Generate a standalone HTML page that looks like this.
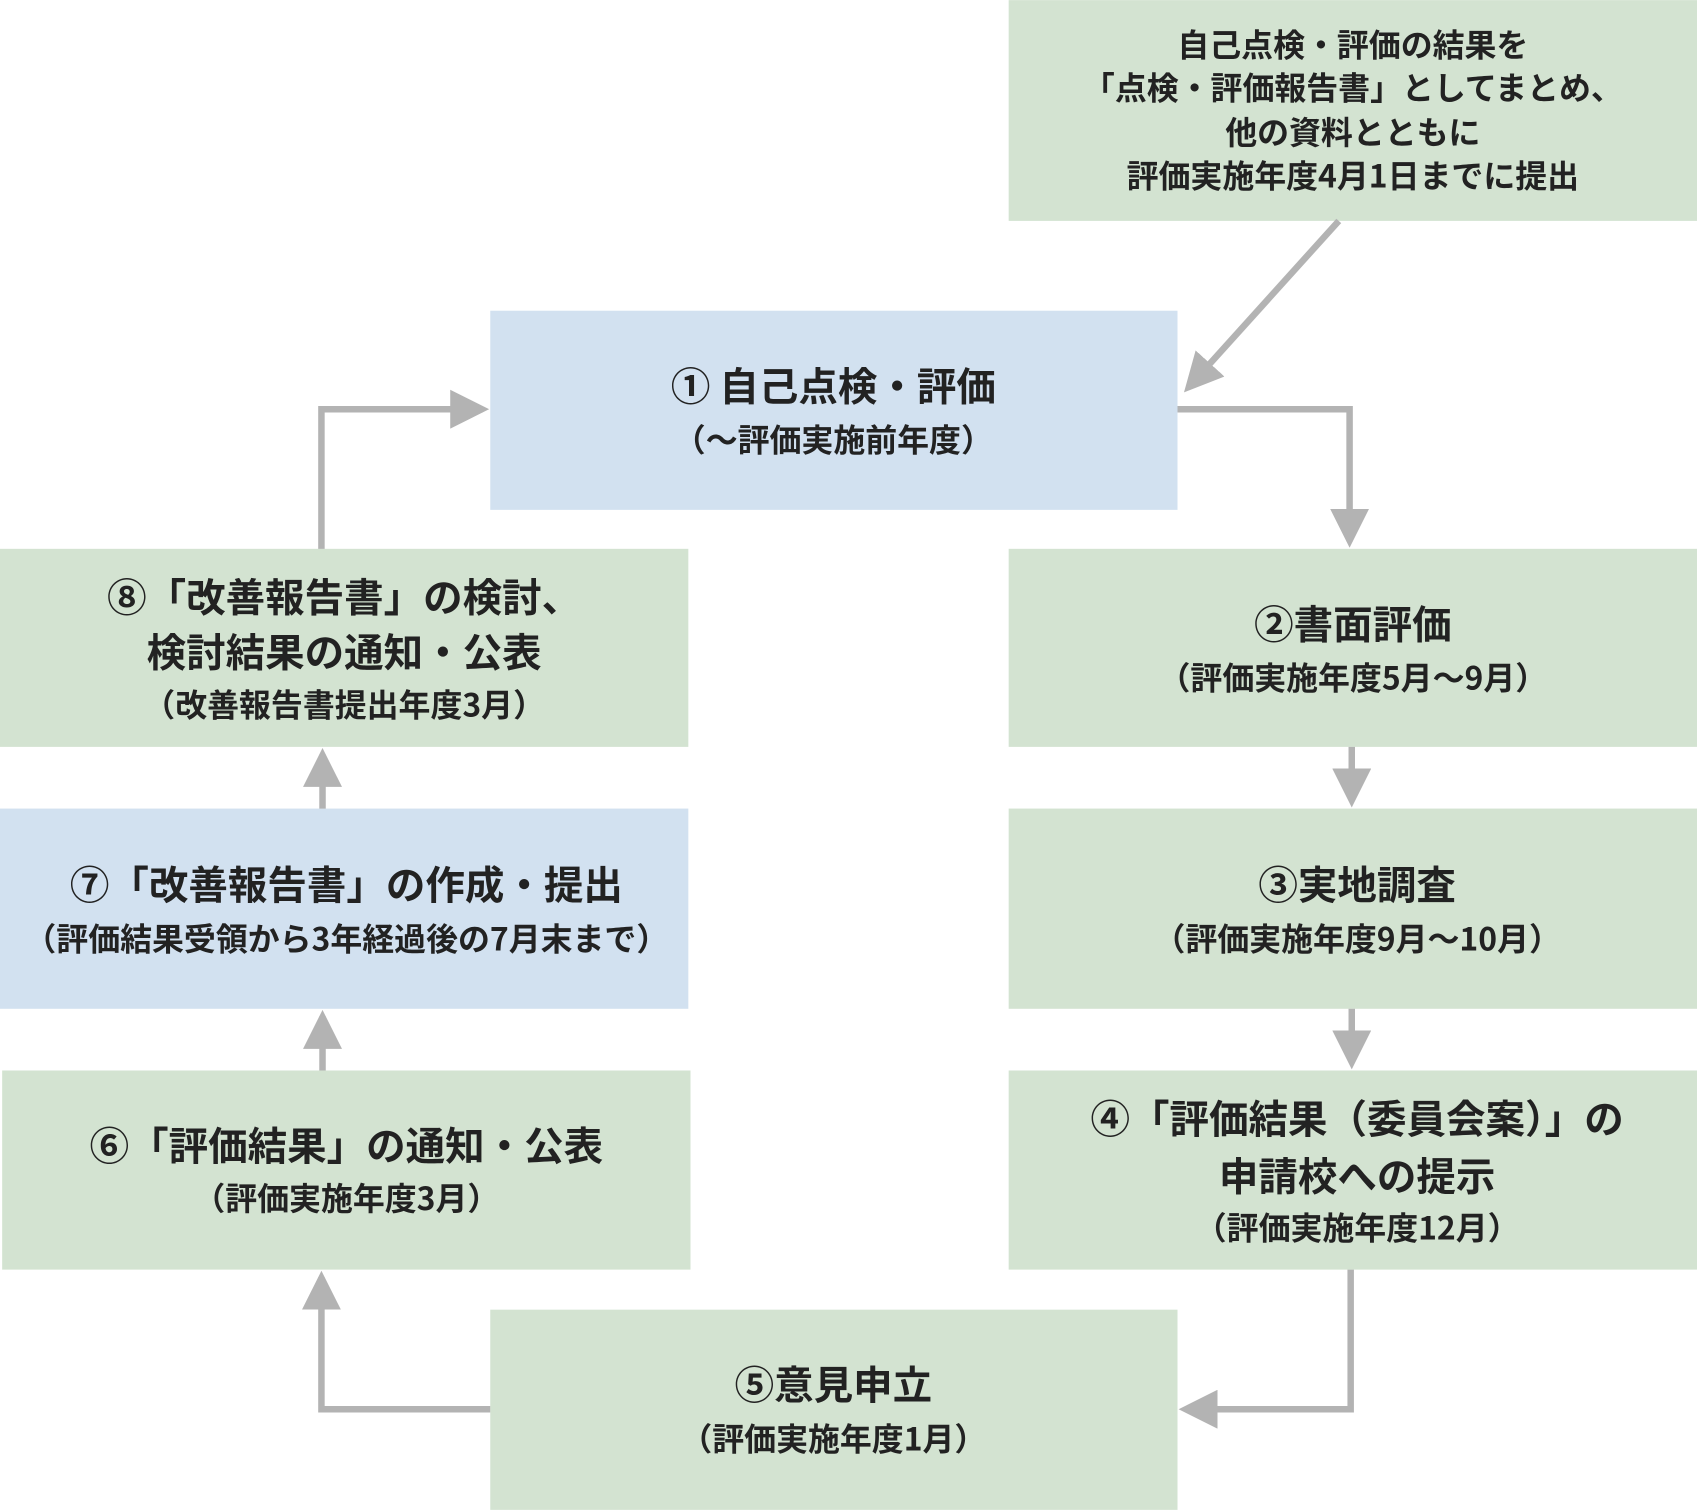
<!DOCTYPE html>
<html><head><meta charset="utf-8"><style>
html,body{margin:0;padding:0;background:#fff;}
svg{display:block;}
text{font-family:"Noto Sans CJK JP","Liberation Sans",sans-serif;font-weight:bold;fill:#222;text-anchor:middle;dominant-baseline:central;}
.t{font-size:36.5px;}
.s{font-size:29.5px;}
</style></head><body>
<svg width="1697" height="1510" viewBox="0 0 1568 1395" xmlns="http://www.w3.org/2000/svg">
<defs>
<marker id="a" markerWidth="6" markerHeight="6" refX="5" refY="3" orient="auto" markerUnits="strokeWidth">
<path d="M0,0 L6,3 L0,6 z" fill="#b3b3b3"/>
</marker>
</defs>
<g fill="#d3e3d1">
<rect x="932" y="0" width="636" height="204"/>
<rect x="0" y="507" width="636" height="183"/>
<rect x="932" y="507" width="636" height="183"/>
<rect x="932" y="747" width="636" height="185"/>
<rect x="2" y="989" width="636" height="184"/>
<rect x="932" y="989" width="636" height="184"/>
<rect x="453" y="1210" width="635" height="185"/>
</g>
<g fill="#d2e1f0">
<rect x="453" y="287" width="635" height="184"/>
<rect x="0" y="747" width="636" height="185"/>
</g>
<g stroke="#b3b3b3" stroke-width="6" fill="none" marker-end="url(#a)">
<path d="M1237,204 L1098,358"/>
<path d="M1088,378 L1247,378 L1247,500"/>
<path d="M1249,690 L1249,740"/>
<path d="M1249,932 L1249,982"/>
<path d="M1248,1173 L1248,1302 L1095,1302"/>
<path d="M453,1302 L297,1302 L297,1180"/>
<path d="M298,989 L298,939"/>
<path d="M298,747 L298,697"/>
<path d="M297,507 L297,378 L446,378"/>
</g>
<g transform="translate(0,-2)">
<text class="s" x="1250" y="42">自己点検・評価の結果を</text>
<text class="s" x="1250" y="82">「点検・評価報告書」としてまとめ、</text>
<text class="s" x="1250" y="123">他の資料とともに</text>
<text class="s" x="1250" y="163">評価実施年度4月1日までに提出</text>

<text class="t" x="770" y="357">① 自己点検・評価</text>
<text class="s" x="770" y="407">（～評価実施前年度）</text>

<text class="t" x="318" y="552">⑧「改善報告書」の検討、</text>
<text class="t" x="318" y="603">検討結果の通知・公表</text>
<text class="s" x="318" y="652">（改善報告書提出年度3月）</text>

<text class="t" x="1250" y="577">②書面評価</text>
<text class="s" x="1250" y="627">（評価実施年度5月～9月）</text>

<text class="t" x="320" y="818">⑦「改善報告書」の作成・提出</text>
<text class="s" x="320" y="868">（評価結果受領から3年経過後の7月末まで）</text>

<text class="t" x="1254" y="818">③実地調査</text>
<text class="s" x="1254" y="868">（評価実施年度9月～10月）</text>

<text class="t" x="320" y="1059">⑥「評価結果」の通知・公表</text>
<text class="s" x="320" y="1108">（評価実施年度3月）</text>

<text class="t" x="1254" y="1034">④「評価結果（委員会案）」の</text>
<text class="t" x="1254" y="1087">申請校への提示</text>
<text class="s" x="1254" y="1135">（評価実施年度12月）</text>

<text class="t" x="770" y="1280">⑤意見申立</text>
<text class="s" x="770" y="1330">（評価実施年度1月）</text>
</g>
</svg>
</body></html>
